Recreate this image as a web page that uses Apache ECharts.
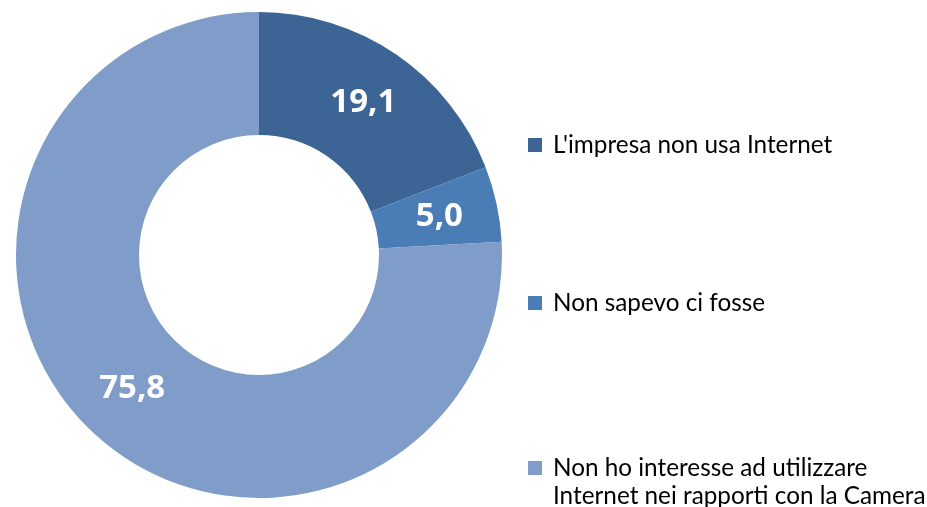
<!DOCTYPE html>
<html>
<head>
<meta charset="utf-8">
<script src="https://cdn.jsdelivr.net/npm/echarts@6/dist/echarts.min.js"></script>
<style>
  html, body { margin: 0; padding: 0; background: #fff; }
  #chart { width: 927px; height: 507px; }
</style>
</head>
<body>
<div id="chart"></div>
<script>
// Motivi per cui l'impresa non usa Internet nei rapporti con la Camera (%)
const categories = [
  "L'impresa non usa Internet",
  "Non sapevo ci fosse",
  "Non ho interesse ad utilizzare\nInternet nei rapporti con la Camera"
];
const values = [19.1, 5.0, 75.8];
const colors = ['#3C6595', '#4A7DB5', '#7F9DC8'];

const legendFont = 'Lato, "Noto Sans", sans-serif';
const textBase = {
  fontFamily: legendFont,
  fontSize: 24.3,
  color: '#000',
  lineHeight: 28
};

// Each line gets a small spacer; multi-line names get a blank first line
// so the swatch sits beside the first line of text.
function legendLabel(name) {
  const lines = name.split('\n');
  const out = lines.map(l => '{g| }{t|' + l + '}');
  if (lines.length > 1) out.unshift('');
  return out.join('\n');
}

function legendFor(i, top) {
  return {
    data: [categories[i]],
    orient: 'vertical',
    left: 528,
    top: top,
    padding: 0,
    icon: 'rect',
    itemWidth: 14,
    itemHeight: 14,
    selectedMode: false,
    formatter: legendLabel,
    textStyle: Object.assign({}, textBase, {
      rich: {
        g: Object.assign({}, textBase, { width: 6 }),
        t: Object.assign({}, textBase)
      }
    })
  };
}

const chart = echarts.init(document.getElementById('chart'), null, { renderer: 'canvas' });
chart.setOption({
  animation: false,
  color: colors,
  legend: [
    legendFor(0, 131),
    legendFor(1, 289),
    legendFor(2, 426)
  ],
  series: [{
    type: 'pie',
    center: [259, 255],
    radius: [120, 243],
    startAngle: 90,
    clockwise: true,
    avoidLabelOverlap: false,
    emphasis: { disabled: true },
    label: {
      show: true,
      position: 'inside',
      color: '#fff',
      fontFamily: '"Open Sans", sans-serif',
      fontWeight: 'bold',
      fontSize: 33,
      formatter: p => p.value.toFixed(1).replace('.', ',')
    },
    labelLine: { show: false },
    itemStyle: { borderWidth: 0 },
    data: categories.map((name, i) => ({ name: name, value: values[i] }))
  }]
});
</script>
</body>
</html>
